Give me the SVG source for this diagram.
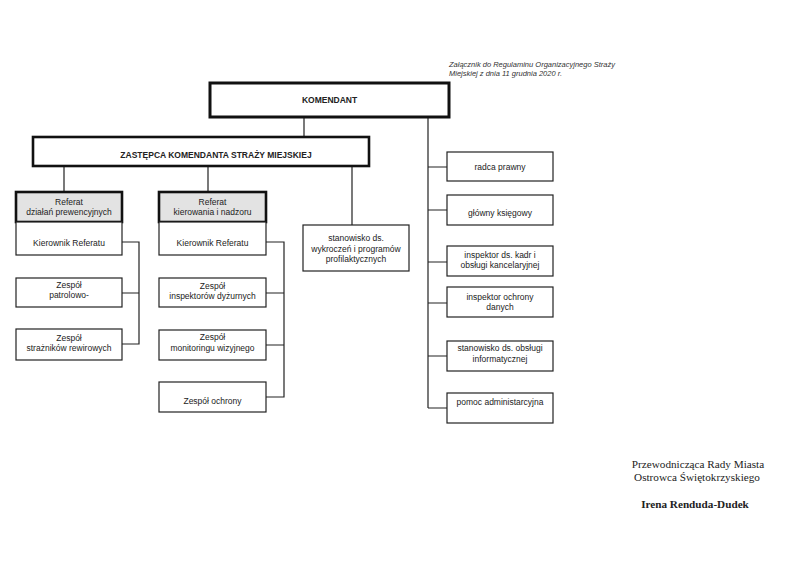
<svg xmlns="http://www.w3.org/2000/svg" width="800" height="566" viewBox="0 0 800 566">
<style>
.bg{fill:#fff}
.box{fill:#fff;stroke:#222;stroke-width:1.2}
.thick{fill:#fff;stroke:#111;stroke-width:3}
.ref{fill:#e3e3e3;stroke:#111;stroke-width:2.6}
.t{font-family:"Liberation Sans",Arial,sans-serif;font-size:8.5px;fill:#222;text-anchor:middle}
.b{font-weight:bold}
.hdr{font-family:"Liberation Sans",Arial,sans-serif;font-size:7.5px;font-style:italic;fill:#333}
.sig{font-family:"Liberation Serif","Times New Roman",serif;font-size:11.2px;fill:#222;text-anchor:middle}
.ln{fill:none;stroke:#222;stroke-width:1.2}
</style>
<rect class="bg" x="0" y="0" width="800" height="566"/>
<text class="hdr" x="449" y="67">Załącznik do Regulaminu Organizacyjnego Straży</text>
<text class="hdr" x="449" y="76">Miejskiej z dnia 11 grudnia 2020 r.</text>
<g id="connectors">
<path class="ln" d="M304 117V137M428 117V408M64 166V192M208 166V192M352 166V225"/>
<path class="ln" d="M428 167H447M428 210H447M428 262H447M428 303H447M428 356H447M428 408H447"/>
<path class="ln" d="M122 242H139V344H122M122 293H139"/>
<path class="ln" d="M266 242H284V397H266M266 293H284M266 345H284"/>
</g>
<g id="komendant"><rect class="thick" x="210" y="83" width="239" height="34"/><text class="t b" x="329.5" y="103">KOMENDANT</text></g>
<g id="zastepca"><rect class="thick" style="stroke-width:2.6" x="33" y="137" width="336" height="29"/><text class="t b" x="216" y="158">ZASTĘPCA KOMENDANTA STRAŻY MIEJSKIEJ</text></g>
<g id="referat1"><rect class="ref" x="16" y="192" width="106" height="30"/><text class="t" x="69" y="205">Referat</text><text class="t" x="69" y="215">działań prewencyjnych</text></g>
<g id="kierownik1"><rect class="box" x="16" y="222" width="106" height="33"/><text class="t" x="69" y="246">Kierownik Referatu</text></g>
<g id="patrolowo"><rect class="box" x="16" y="278" width="106" height="29"/><text class="t" x="69" y="288">Zespół</text><text class="t" x="69" y="298">patrolowo-</text></g>
<g id="rewirowi"><rect class="box" x="16" y="329" width="106" height="31"/><text class="t" x="69" y="341">Zespół</text><text class="t" x="69" y="351">strażników rewirowych</text></g>
<g id="referat2"><rect class="ref" x="159" y="192" width="107" height="30"/><text class="t" x="212.5" y="205">Referat</text><text class="t" x="212.5" y="215">kierowania i nadzoru</text></g>
<g id="kierownik2"><rect class="box" x="159" y="222" width="107" height="33"/><text class="t" x="212.5" y="246">Kierownik Referatu</text></g>
<g id="dyzurni"><rect class="box" x="159" y="278" width="107" height="29"/><text class="t" x="212.5" y="289">Zespół</text><text class="t" x="212.5" y="299">inspektorów dyżurnych</text></g>
<g id="monitoring"><rect class="box" x="159" y="330" width="107" height="30"/><text class="t" x="212.5" y="340">Zespół</text><text class="t" x="212.5" y="351">monitoringu wizyjnego</text></g>
<g id="ochrona"><rect class="box" x="159" y="382" width="107" height="30"/><text class="t" x="212.5" y="404">Zespół ochrony</text></g>
<g id="wykroczenia"><rect class="box" x="303" y="225" width="106" height="46"/><text class="t" x="356" y="241">stanowisko ds.</text><text class="t" x="356" y="252">wykroczeń i programów</text><text class="t" x="356" y="262">profilaktycznych</text></g>
<g id="radca"><rect class="box" x="447" y="152" width="106" height="29"/><text class="t" x="500" y="170">radca prawny</text></g>
<g id="ksiegowy"><rect class="box" x="447" y="195" width="106" height="30"/><text class="t" x="500" y="216">główny księgowy</text></g>
<g id="kadry"><rect class="box" x="447" y="246" width="106" height="30"/><text class="t" x="500" y="258">inspektor ds. kadr i</text><text class="t" x="500" y="268">obsługi kancelaryjnej</text></g>
<g id="iod"><rect class="box" x="447" y="287" width="106" height="30"/><text class="t" x="500" y="300">inspektor ochrony</text><text class="t" x="500" y="310">danych</text></g>
<g id="informatyka"><rect class="box" x="447" y="341" width="106" height="30"/><text class="t" x="500" y="351">stanowisko ds. obsługi</text><text class="t" x="500" y="362">informatycznej</text></g>
<g id="pomoc"><rect class="box" x="447" y="393" width="106" height="30"/><text class="t" x="500" y="405">pomoc administarcyjna</text></g>
<text class="sig" x="698" y="468">Przewodnicząca Rady Miasta</text>
<text class="sig" x="697" y="481">Ostrowca Świętokrzyskiego</text>
<text class="sig" x="695" y="508" font-weight="bold">Irena Renduda-Dudek</text>
</svg>
